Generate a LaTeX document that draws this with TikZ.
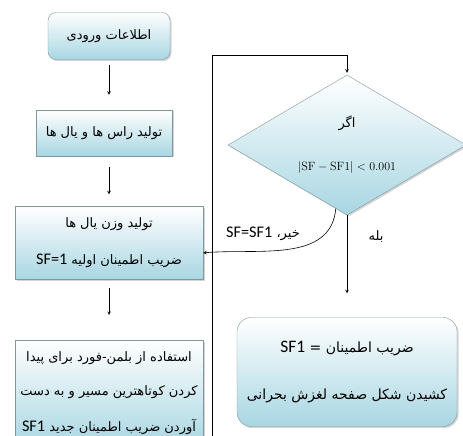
\documentclass[tikz,border=0pt]{standalone}
\usepackage{fontspec}
\newfontfamily\farsi[Script=Arabic]{DejaVu Sans}
\newfontfamily\enfont[Scale=1.25]{Carlito}
\TeXXeTstate=1
\usetikzlibrary{shapes.geometric,shadows}
\definecolor{boxblue}{RGB}{168,214,226}
\definecolor{boxline}{RGB}{130,150,160}
\newcommand{\fa}[1]{\beginR #1\endR}
\newcommand{\en}[1]{\beginL{\enfont #1}\endL}
\tikzset{
  flowbox/.style={draw=boxline, top color=white, bottom color=boxblue,
    font=\farsi\fontsize{13}{15}\selectfont, align=center, inner sep=2pt,
    drop shadow={shadow xshift=1.5pt, shadow yshift=-1.5pt, opacity=0.35}},
  roundbox/.style={flowbox, rounded corners=8pt},
  decision/.style={flowbox, diamond, aspect=1.7, inner sep=0pt},
  arrow/.style={-stealth, line width=0.6pt}
}
\begin{document}
\begin{tikzpicture}[x=1pt,y=1pt]
        \useasboundingbox (0,0) rectangle (463,436);
        \clip (0,0) rectangle (463,436);

        % left column
        \node[roundbox, minimum width=122, minimum height=47] (input) at (109,400) {\fa{اطلاعات ورودی}};
        \node[flowbox, minimum width=136, minimum height=46] (graph) at (104,303) {\fa{تولید راس ها و یال ها}};
        \node[flowbox, minimum width=188, minimum height=73] (weight) at (109,193)
            {\fa{تولید وزن یال ها}\\[22pt]\fa{ضریب اطمینان اولیه \en{SF=1}}};
        \node[flowbox, minimum width=188, minimum height=106, anchor=north] (bellman) at (109,96)
            {\fa{استفاده از بلمن-فورد برای پیدا}\\[19pt]\fa{کردن کوتاهترین مسیر و به دست}\\[19pt]\fa{آوردن ضریب اطمینان جدید \en{SF1}}};

        % right column
        \node[decision, minimum width=238, minimum height=140] (check) at (347,291)
            {\fa{اگر}\\[28pt]{\rmfamily\fontsize{12}{14}\selectfont$|\mathrm{SF}-\mathrm{SF1}|<0.001$}};
        \node[roundbox, rounded corners=14pt, minimum width=220, minimum height=109,
              font=\farsi\fontsize{14}{17}\selectfont] (result) at (347,64)
            {\fa{ضریب اطمینان = \en{SF1}}\\[30pt]\fa{کشیدن شکل صفحه لغزش بحرانی}};

        % arrows
        \draw[arrow, shorten <=5pt, shorten >=15pt] (input.south) -- (input.south |- graph.north);
        \draw[arrow, shorten <=11pt, shorten >=12pt] (input.south |- graph.south) -- (input.south |- weight.north);
        \draw[arrow, shorten <=8pt, shorten >=25pt] (input.south |- weight.south) -- (input.south |- bellman.north);

        \coordinate (loopend) at (212,-4);
        \coordinate (looptop) at (212,381);
        \draw[arrow, shorten >=2pt] (loopend) -- (looptop) -| (check.north);

        \draw[arrow, shorten >=24pt] (check.south) -- (result.north);
        \node[font=\farsi\fontsize{13}{15}\selectfont] (yes) at (376,199) {\fa{بله}};

        \draw[arrow] (check.260) to[out=-95,in=5] (weight.-6);
        \node[font=\farsi\fontsize{13}{15}\selectfont] (no) at (263,202) {\fa{خیر، \en{SF=SF1}}};
\end{tikzpicture}
\end{document}
